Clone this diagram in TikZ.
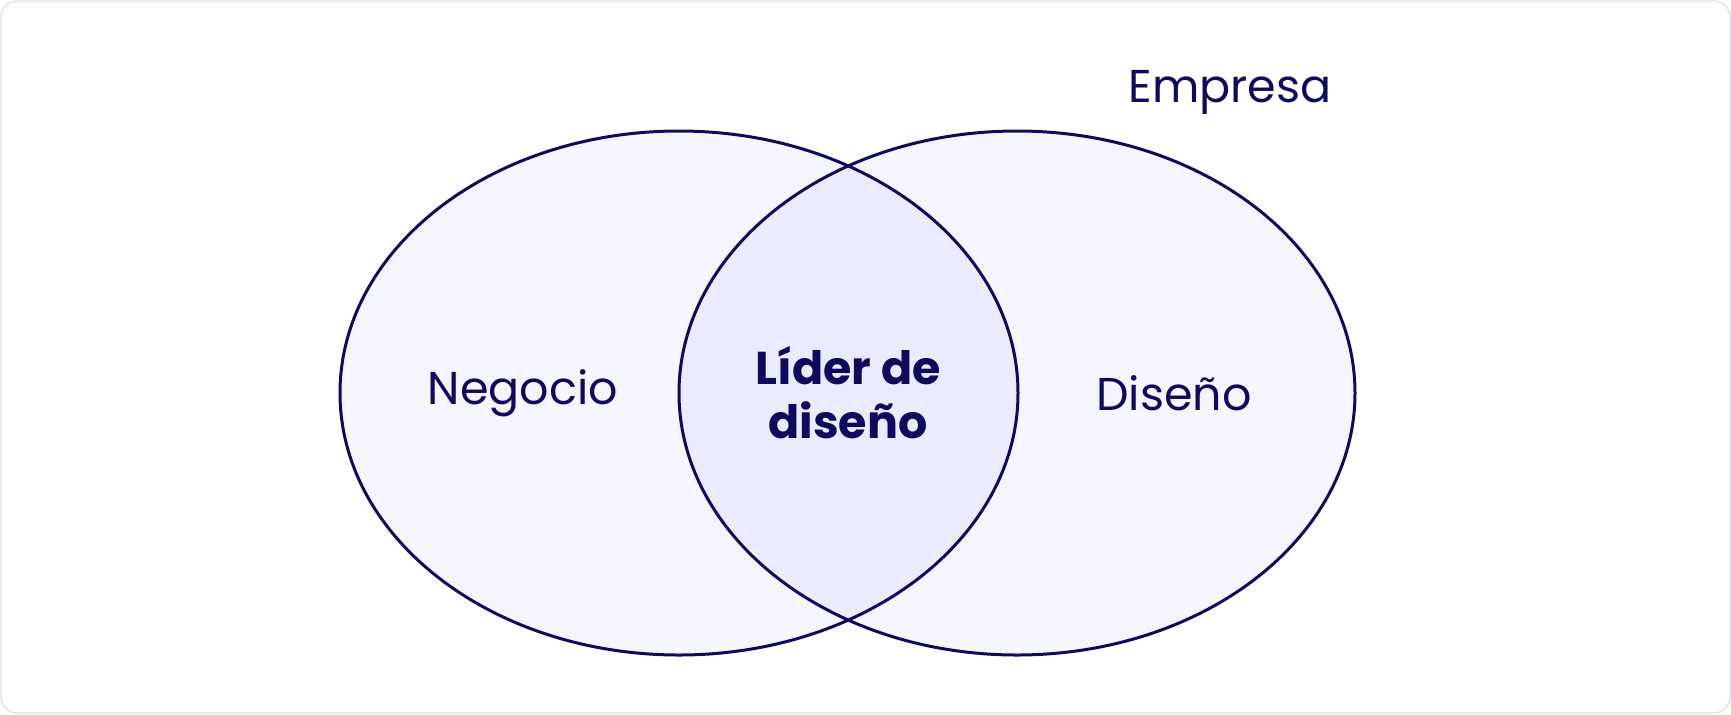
\documentclass[tikz,border=0pt]{standalone}
\usepackage{fontspec}
\setmainfont{Poppins}
\definecolor{navy}{HTML}{0E0B5C}
\definecolor{setfill}{HTML}{F4F5FD}
\definecolor{capfill}{HTML}{EAEBFC}
\definecolor{frame}{HTML}{DDDDE6}
\tikzset{
  setline/.style={draw=navy,line width=1.5pt},
  setlabel/.style={text=navy,font=\fontsize{23}{27}\selectfont},
}
\begin{document}
\begin{tikzpicture}[x=0.5pt,y=-0.5pt]
\useasboundingbox (0,0) rectangle (1731,714);
\draw [frame,line width=0.6pt,rounded corners=8pt] (1,1) rectangle (1730,713);%marco

\fill [setfill] (679,393) ellipse [x radius=339,y radius=262];
\fill [setfill] (1017,393) ellipse [x radius=338,y radius=262];
\begin{scope}
\clip (679,393) ellipse [x radius=339,y radius=262];
\fill [capfill] (1017,393) ellipse [x radius=338,y radius=262];
\end{scope}
\draw [setline] (679,393) ellipse [x radius=339,y radius=262];  %%Negocio
\draw [setline] (1017,393) ellipse [x radius=338,y radius=262]; %%Diseño

\node [setlabel] (negocio) at (523,393) {Negocio};
\node [setlabel] (diseno) at (1174,393) {Diseño};
\node [setlabel,font=\fontsize{23}{27}\selectfont\bfseries,align=center] (lider) at (848,393) {Líder de\\diseño};
\node [setlabel] (empresa) at (1230,92) {Empresa};

\end{tikzpicture}
\end{document}
